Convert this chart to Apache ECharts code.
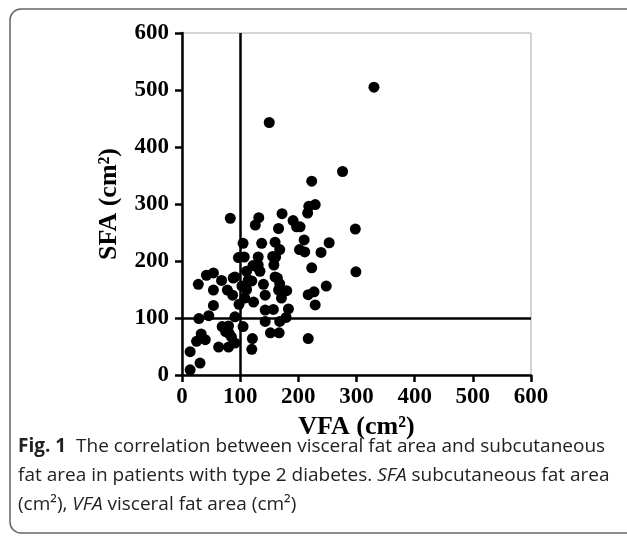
<!DOCTYPE html>
<html><head><meta charset="utf-8">
<script src="https://cdn.jsdelivr.net/npm/echarts@6/dist/echarts.min.js"></script>
<style>html,body{margin:0;padding:0;background:#fff}#c{width:627px;height:538px}</style>
</head><body><div id="c"></div>
<script>
const vfa = [330,150,276,223,229,218,216,298,299,253,239,211,210,203,223,248,227,217,229,217,
 172,132,126,191,197,166,83,105,137,160,168,202,107,97,131,161,122,158,131,111,134,160,120,140,168,164,180,143,171,108,123,183,143,157,105,143,168,179,152,167,121,120,114,103,111,98,
 42,54,28,68,88,54,78,87,54,46,29,91,69,80,75,85,33,25,40,63,80,91,14,31,14,81,166,128,91,156];
const sfa = [505,443,357,340,299,296,284,256,181,232,215,216,237,260,188,156,146,141,123,64,
 283,276,263,271,260,257,275,231,231,233,220,220,207,206,207,207,192,193,193,182,182,172,165,159,160,170,148,140,135,135,128,116,114,115,85,94,94,101,74,74,64,45,167,156,150,124,
 175,179,159,166,170,149,149,140,122,104,99,102,85,86,76,67,72,59,62,49,49,56,41,21,9,73,149,190,172,208];
const xTicks = [0,100,200,300,400,500,600];
const yTicks = [0,100,200,300,400,500,600];
const refX = 100, refY = 100;

const points = vfa.map((v,i)=>[v, sfa[i]]);
const serif = '"Liberation Serif","Times New Roman",serif';
const sans = '"Open Sans","Noto Sans",sans-serif';
const chart = echarts.init(document.getElementById('c'));
const axisCommon = {
  interval: 100,
  axisLine:{show:true,onZero:false,lineStyle:{color:'#000',width:2.5}},
  axisTick:{show:true,length:7,lineStyle:{color:'#000',width:2.5}},
  splitLine:{show:false},
  axisLabel:{color:'#000',fontFamily:serif,fontWeight:'bold',fontSize:23},
  nameTextStyle:{color:'#000',fontFamily:serif,fontWeight:'bold',fontSize:26}
};
chart.setOption({
  animation:false,
  grid:{left:182,right:96,top:33,bottom:163,show:true,borderColor:'#aaa',borderWidth:1},
  xAxis:Object.assign({},axisCommon,{type:'value',min:xTicks[0],max:xTicks[xTicks.length-1],name:'VFA (cm²)',nameLocation:'middle',nameGap:28,
    axisLabel:Object.assign({},axisCommon.axisLabel,{margin:11})}),
  yAxis:Object.assign({},axisCommon,{type:'value',min:yTicks[0],max:yTicks[yTicks.length-1],name:'SFA (cm²)',nameLocation:'middle',nameGap:60,
    axisLabel:Object.assign({},axisCommon.axisLabel,{margin:13})}),
  series:[{type:'scatter',data:points,symbolSize:11,itemStyle:{color:'#000',opacity:1},
    markLine:{silent:true,symbol:'none',label:{show:false},lineStyle:{color:'#000',width:2.5,type:'solid'},
      data:[{xAxis:refX},{yAxis:refY}]}}],
  graphic:[
    {type:'rect',shape:{x:10,y:9,width:640,height:524,r:11},style:{fill:'none',stroke:'#666',lineWidth:1.5},silent:true},
    {type:'text',left:18,top:437,style:{text:'{b|Fig. 1}  The correlation between visceral fat area and subcutaneous',
      rich:{b:{fontWeight:'bold',fontFamily:sans,fontSize:19,fill:'#222'}},fontFamily:sans,fontSize:19,fill:'#222'}},
    {type:'text',left:18,top:466,style:{text:'fat area in patients with type 2 diabetes. {i|SFA} subcutaneous fat area',
      rich:{i:{fontStyle:'italic',fontFamily:sans,fontSize:19,fill:'#222'}},fontFamily:sans,fontSize:19,fill:'#222'}},
    {type:'text',left:18,top:495,style:{text:'(cm²), {i|VFA} visceral fat area (cm²)',
      rich:{i:{fontStyle:'italic',fontFamily:sans,fontSize:19,fill:'#222'}},fontFamily:sans,fontSize:19,fill:'#222'}}
  ]
});
</script></body></html>
